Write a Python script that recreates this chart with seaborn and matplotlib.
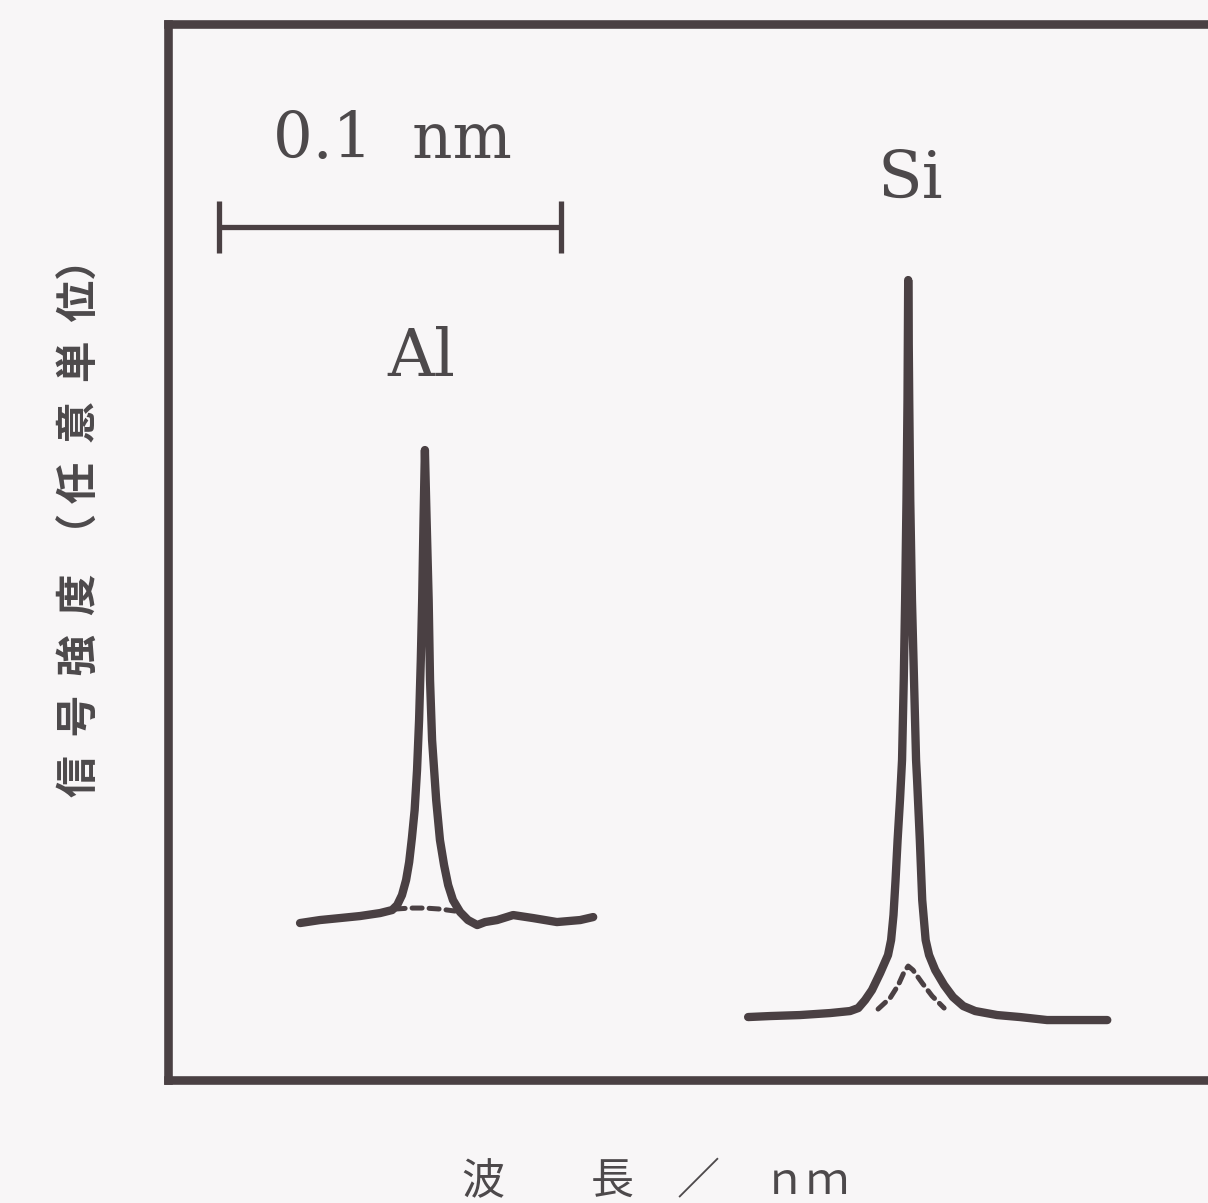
import matplotlib
matplotlib.use("Agg")
import matplotlib.pyplot as plt
import pandas as pd
import seaborn as sns

# Relative wavelength (pm) and signal intensity (arbitrary units)
al_x = [38.6, 44.4, 50.3, 56.1, 62.0, 65.5, 67.0, 68.4, 69.6, 70.5, 71.3, 72.1,
        72.8, 73.4, 73.9, 74.3, 74.7, 75.1, 75.6, 76.2, 76.6, 77.2, 78.4, 79.5,
        80.7, 81.9, 83.3, 85.4, 87.7, 90.4, 92.7, 96.2, 100.9, 106.7, 113.7,
        120.5, 124.3]
al_y = [15.7, 16.0, 16.2, 16.4, 16.7, 17.0, 17.5, 18.5, 20.0, 21.8, 24.2, 27.0,
        31.0, 36.0, 42.0, 48.0, 56.0, 63.0, 56.0, 48.0, 40.0, 34.0, 28.0, 24.0,
        21.5, 19.5, 18.0, 16.8, 16.0, 15.5, 15.8, 16.0, 16.5, 16.2, 15.8,
        16.0, 16.3]

al_bg_x = [66.4, 70.8, 75.1, 79.5, 83.9]
al_bg_y = [17.1, 17.2, 17.2, 17.1, 16.9]

si_x = [169.6, 176.0, 184.8, 193.6, 199.4, 201.8, 203.8, 205.8, 208.2, 210.5,
        211.4, 212.1, 212.7, 213.3, 214.0, 214.6, 215.1, 215.5, 215.9, 216.2,
        216.4,
        216.7, 217.0, 217.5, 218.1, 218.7, 219.0, 219.8, 220.5, 221.5, 222.5,
        224.3, 226.9, 229.5, 232.5, 236.0, 242.4, 249.1, 257.0, 266.7, 274.6]
si_y = [6.3, 6.4, 6.5, 6.7, 6.9, 7.2, 8.0, 9.0, 10.7, 12.5,
        14.0, 16.5, 20.0, 24.0, 28.0, 32.0, 40.0, 48.0, 58.0, 68.0,
        80.0,
        68.0, 58.0, 48.0, 40.0, 32.0, 30.0, 24.0, 18.0, 14.0, 12.5,
        11.0, 9.5, 8.3, 7.4, 6.9, 6.5, 6.3, 6.0, 6.0, 6.0]

si_bg_x = [207.6, 211.1, 213.5, 215.2, 216.4, 217.8, 220.5, 223.4, 226.9]
si_bg_y = [7.1, 8.2, 9.5, 10.8, 11.4, 11.0, 9.7, 8.4, 7.2]

peak_labels = ["Al", "Si"]
peak_label_x = [74.2, 217.0]
peak_label_y = [69.0, 86.8]

scale_bar_x = [15.0, 115.0]   # 0.1 nm
scale_bar_y = 85.3
scale_label = "0.1  nm"

xlabel = "波　　長　／　ｎｍ"
ylabel = "信  号  強  度  （ 任  意  単  位）"

sns.set_theme(style="white")
plt.rcParams["font.family"] = ["Noto Sans CJK JP", "DejaVu Sans"]

ink = "#4a4043"
text_ink = "#4d494b"
paper = "#f8f6f7"

fig = plt.figure(figsize=(12.08, 12.03), dpi=100, facecolor=paper)
ax = fig.add_axes([0.1391, 0.1022, 0.8667, 0.8778], facecolor=paper)

for cx, cy in [(al_x, al_y), (si_x, si_y)]:
    df = pd.DataFrame({"x": cx, "y": cy})
    sns.lineplot(data=df, x="x", y="y", ax=ax, color=ink, lw=6.0,
                 estimator=None, sort=False, solid_capstyle="round",
                 solid_joinstyle="round")

for bx, by in [(al_bg_x, al_bg_y), (si_bg_x, si_bg_y)]:
    df = pd.DataFrame({"x": bx, "y": by})
    sns.lineplot(data=df, x="x", y="y", ax=ax, color=ink, lw=3.6,
                 estimator=None, sort=False, linestyle=(0, (2.0, 1.4)),
                 dash_capstyle="round")

# scale bar
ax.plot(scale_bar_x, [scale_bar_y, scale_bar_y], color=ink, lw=3.8,
        solid_capstyle="butt")
for sx in scale_bar_x:
    ax.plot([sx, sx], [scale_bar_y - 2.6, scale_bar_y + 2.6], color=ink,
            lw=3.8, solid_capstyle="butt")
ax.text(sum(scale_bar_x) / 2 + 0.5, scale_bar_y + 5.6, scale_label,
        family="DejaVu Serif", fontsize=45, color=text_ink,
        ha="center", va="bottom")

for lab, lx, ly in zip(peak_labels, peak_label_x, peak_label_y):
    ax.text(lx, ly, lab, family="DejaVu Serif", fontsize=47, color=text_ink,
            ha="center", va="bottom")

ax.set_xlim(0, 306.1)
ax.set_ylim(0, 105.6)
ax.set_xticks([])
ax.set_yticks([])
ax.set_xlabel("")
ax.set_ylabel("")
for side in ["left", "right", "top", "bottom"]:
    ax.spines[side].set_visible(True)
    ax.spines[side].set_color(ink)
    ax.spines[side].set_linewidth(6.2)

fig.text(656 / 1208, 1 - 1182 / 1203, xlabel, fontsize=31, color=text_ink,
         ha="center", va="center")
fig.text(81 / 1208, 1 - 518 / 1203, ylabel, fontsize=30, color=text_ink,
         ha="center", va="center", rotation=90, fontweight="bold")

fig.savefig("out.png", dpi=100, facecolor=paper)
